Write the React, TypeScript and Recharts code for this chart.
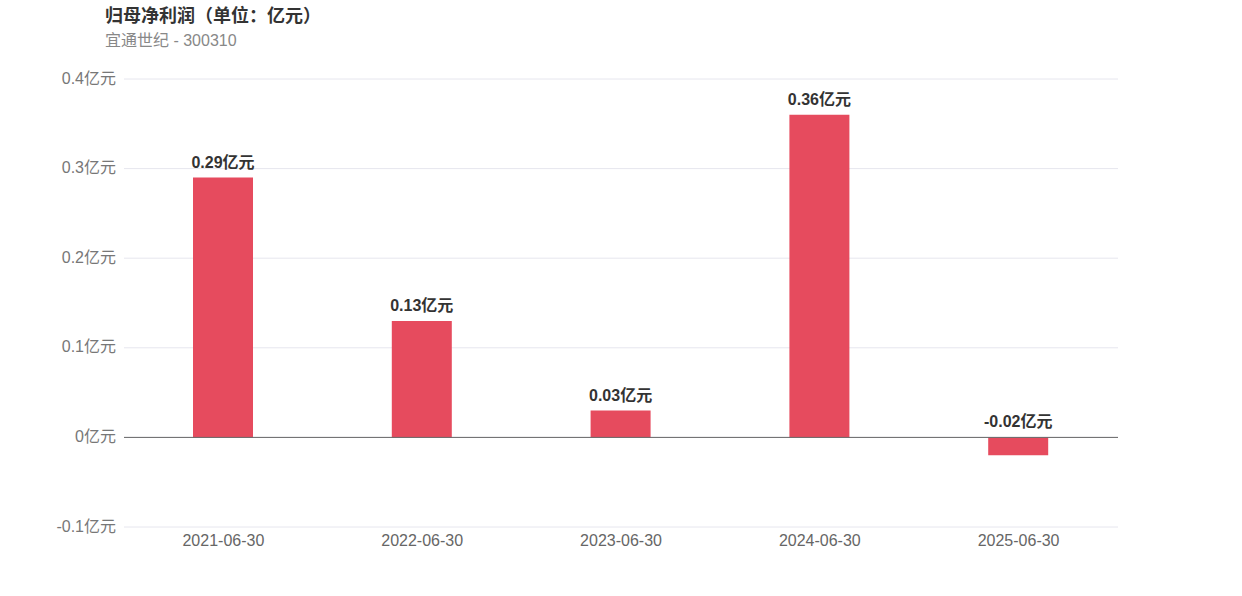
import { BarChart, Bar, XAxis, YAxis, CartesianGrid, ReferenceLine, LabelList } from 'recharts';

const categories = ['2021-06-30', '2022-06-30', '2023-06-30', '2024-06-30', '2025-06-30'];
const profit = [0.29, 0.13, 0.03, 0.36, -0.02];
const yTicks = [-0.1, 0, 0.1, 0.2, 0.3, 0.4];

const data = categories.map((date, i) => ({ date, value: profit[i] }));

const FONT = '"Liberation Sans", Arial, "Noto Sans CJK SC", sans-serif';

// label sits above the bar top, or above the zero line for negatives
const BarLabel = (props: any) => {
    const { x, y, width, height, value } = props;
    const top = Math.min(y, y + height);
    return (
        <text x={x + width / 2} y={top - 10} textAnchor="middle" fill="#333" fontSize={16} fontWeight="bold" fontFamily={FONT}>
            {`${value}亿元`}
        </text>
    );
};

export default function App() {
    return (
        <div style={{ position: 'absolute', left: 0, top: 0, width: 1242, height: 596, background: '#fff', fontFamily: FONT }}>
            <div style={{ position: 'absolute', left: 105, top: 1, fontSize: 18, fontWeight: 'bold', color: '#333' }}>
                归母净利润（单位：亿元）
            </div>
            <div style={{ position: 'absolute', left: 105, top: 27, fontSize: 16, color: '#888' }}>
                宜通世纪 - 300310
            </div>
            <BarChart width={1242} height={596} data={data} margin={{ top: 79, right: 124, bottom: 39, left: 0 }}>
                <CartesianGrid vertical={false} stroke="#e6e6ee" />
                <XAxis
                    dataKey="date"
                    axisLine={false}
                    tickLine={false}
                    height={30}
                    tickMargin={2}
                    tick={{ fill: '#666', fontSize: 16, fontFamily: FONT }}
                />
                <YAxis
                    width={124}
                    domain={[-0.1, 0.4]}
                    ticks={yTicks}
                    axisLine={false}
                    tickLine={false}
                    tickMargin={2}
                    tickFormatter={(v: number) => `${v}亿元`}
                    tick={{ fill: '#777', fontSize: 16, fontFamily: FONT, dy: -1 }}
                />
                <ReferenceLine y={0} stroke="#666" />
                <Bar dataKey="value" fill="#E64B5E" barSize={60} isAnimationActive={false}>
                    <LabelList dataKey="value" content={BarLabel} />
                </Bar>
            </BarChart>
        </div>
    );
}
